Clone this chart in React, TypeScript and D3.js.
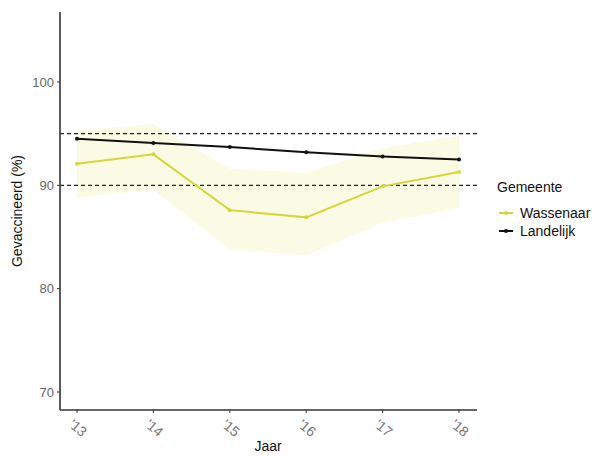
import { useEffect, useRef } from "react";
import * as d3 from "d3";

const years = [2013, 2014, 2015, 2016, 2017, 2018];
const tickLabels = ["'13", "'14", "'15", "'16", "'17", "'18"];
const wassenaar = [92.1, 93.0, 87.6, 86.9, 89.9, 91.3];
const wassenaarLower = [88.8, 89.6, 83.8, 83.2, 86.4, 87.8];
const wassenaarUpper = [95.3, 95.9, 91.6, 91.2, 93.6, 94.8];
const landelijk = [94.5, 94.1, 93.7, 93.2, 92.8, 92.5];
const refLines = [95, 90];
const yTicks = [70, 80, 90, 100];

const W = 604;
const H = 456;
const YELLOW = "#d6d63a";

export default function App() {
  const svgRef = useRef<SVGSVGElement>(null);

  useEffect(() => {
    if (!svgRef.current) return;
    const svg = d3.select(svgRef.current);
    svg.selectAll("*").remove();

    const x = d3.scaleLinear().domain([2013, 2018]).range([77, 459]);
    const y = d3.scaleLinear().domain([70, 100]).range([392, 82]);
    const left = 60;
    const right = 477;
    const top = 12;
    const bottom = 410;
    const font = "Liberation Sans, Arial, sans-serif";

    const band = years.map((yr, i) => ({ yr, lo: wassenaarLower[i], hi: wassenaarUpper[i] }));
    const area = d3
      .area<{ yr: number; lo: number; hi: number }>()
      .x((d) => x(d.yr))
      .y0((d) => y(d.lo))
      .y1((d) => y(d.hi));
    svg
      .append("path")
      .attr("d", area(band))
      .attr("fill", "#f2f2a0")
      .attr("opacity", 0.28);

    // reference lines
    refLines.forEach((v) => {
      svg
        .append("line")
        .attr("x1", left)
        .attr("x2", right)
        .attr("y1", y(v))
        .attr("y2", y(v))
        .attr("stroke", "#222")
        .attr("stroke-width", 1.1)
        .attr("stroke-dasharray", "4,3");
    });

    const line = d3
      .line<number>()
      .x((_, i) => x(years[i]))
      .y((d) => y(d));

    const series = [
      { vals: wassenaar, color: YELLOW },
      { vals: landelijk, color: "#111" },
    ];
    series.forEach((s) => {
      svg
        .append("path")
        .attr("d", line(s.vals))
        .attr("fill", "none")
        .attr("stroke", s.color)
        .attr("stroke-width", 2);
      svg
        .selectAll(null)
        .data(s.vals)
        .enter()
        .append("circle")
        .attr("cx", (_, i) => x(years[i]))
        .attr("cy", (d) => y(d))
        .attr("r", 2)
        .attr("fill", s.color);
    });

    // axes
    svg
      .append("line")
      .attr("x1", left)
      .attr("x2", left)
      .attr("y1", top)
      .attr("y2", bottom)
      .attr("stroke", "#333")
      .attr("stroke-width", 1.6);
    svg
      .append("line")
      .attr("x1", left)
      .attr("x2", right)
      .attr("y1", bottom)
      .attr("y2", bottom)
      .attr("stroke", "#333")
      .attr("stroke-width", 1.6);

    yTicks.forEach((t) => {
      svg
        .append("line")
        .attr("x1", left - 3)
        .attr("x2", left)
        .attr("y1", y(t))
        .attr("y2", y(t))
        .attr("stroke", "#333");
      svg
        .append("text")
        .attr("x", left - 6)
        .attr("y", y(t))
        .attr("dy", "0.35em")
        .attr("text-anchor", "end")
        .attr("fill", "#666")
        .attr("font-family", font)
        .attr("font-size", 13)
        .text(t);
    });

    years.forEach((yr, i) => {
      svg
        .append("line")
        .attr("x1", x(yr))
        .attr("x2", x(yr))
        .attr("y1", bottom)
        .attr("y2", bottom + 3)
        .attr("stroke", "#333");
      svg
        .append("text")
        .attr("transform", `translate(${x(yr) + 1},${bottom + 18}) rotate(40)`)
        .attr("text-anchor", "middle")
        .attr("dy", "0.35em")
        .attr("fill", "#777")
        .attr("font-family", font)
        .attr("font-size", 14)
        .text(tickLabels[i]);
    });

    svg
      .append("text")
      .attr("x", 268)
      .attr("y", 451)
      .attr("text-anchor", "middle")
      .attr("fill", "#111")
      .attr("font-family", font)
      .attr("font-size", 14)
      .text("Jaar");
    svg
      .append("text")
      .attr("transform", `translate(22,${(top + bottom) / 2}) rotate(-90)`)
      .attr("text-anchor", "middle")
      .attr("fill", "#111")
      .attr("font-family", font)
      .attr("font-size", 14)
      .text("Gevaccineerd (%)");

    // legend
    const lg = svg.append("g").attr("transform", "translate(497,0)");
    lg.append("text")
      .attr("x", 0)
      .attr("y", 192)
      .attr("fill", "#111")
      .attr("font-family", font)
      .attr("font-size", 14)
      .text("Gemeente");
    const names = ["Wassenaar", "Landelijk"];
    names.forEach((n, i) => {
      const cy = 213 + i * 18;
      lg.append("line")
        .attr("x1", 2)
        .attr("x2", 16)
        .attr("y1", cy)
        .attr("y2", cy)
        .attr("stroke", series[i].color)
        .attr("stroke-width", 2);
      lg.append("circle").attr("cx", 9).attr("cy", cy).attr("r", 2).attr("fill", series[i].color);
      lg.append("text")
        .attr("x", 23)
        .attr("y", cy)
        .attr("dy", "0.35em")
        .attr("fill", "#111")
        .attr("font-family", font)
        .attr("font-size", 14)
        .text(n);
    });
  }, []);

  return (
    <svg
      ref={svgRef}
      width={W}
      height={H}
      style={{ position: "absolute", left: 0, top: 0, background: "#fff" }}
    />
  );
}
